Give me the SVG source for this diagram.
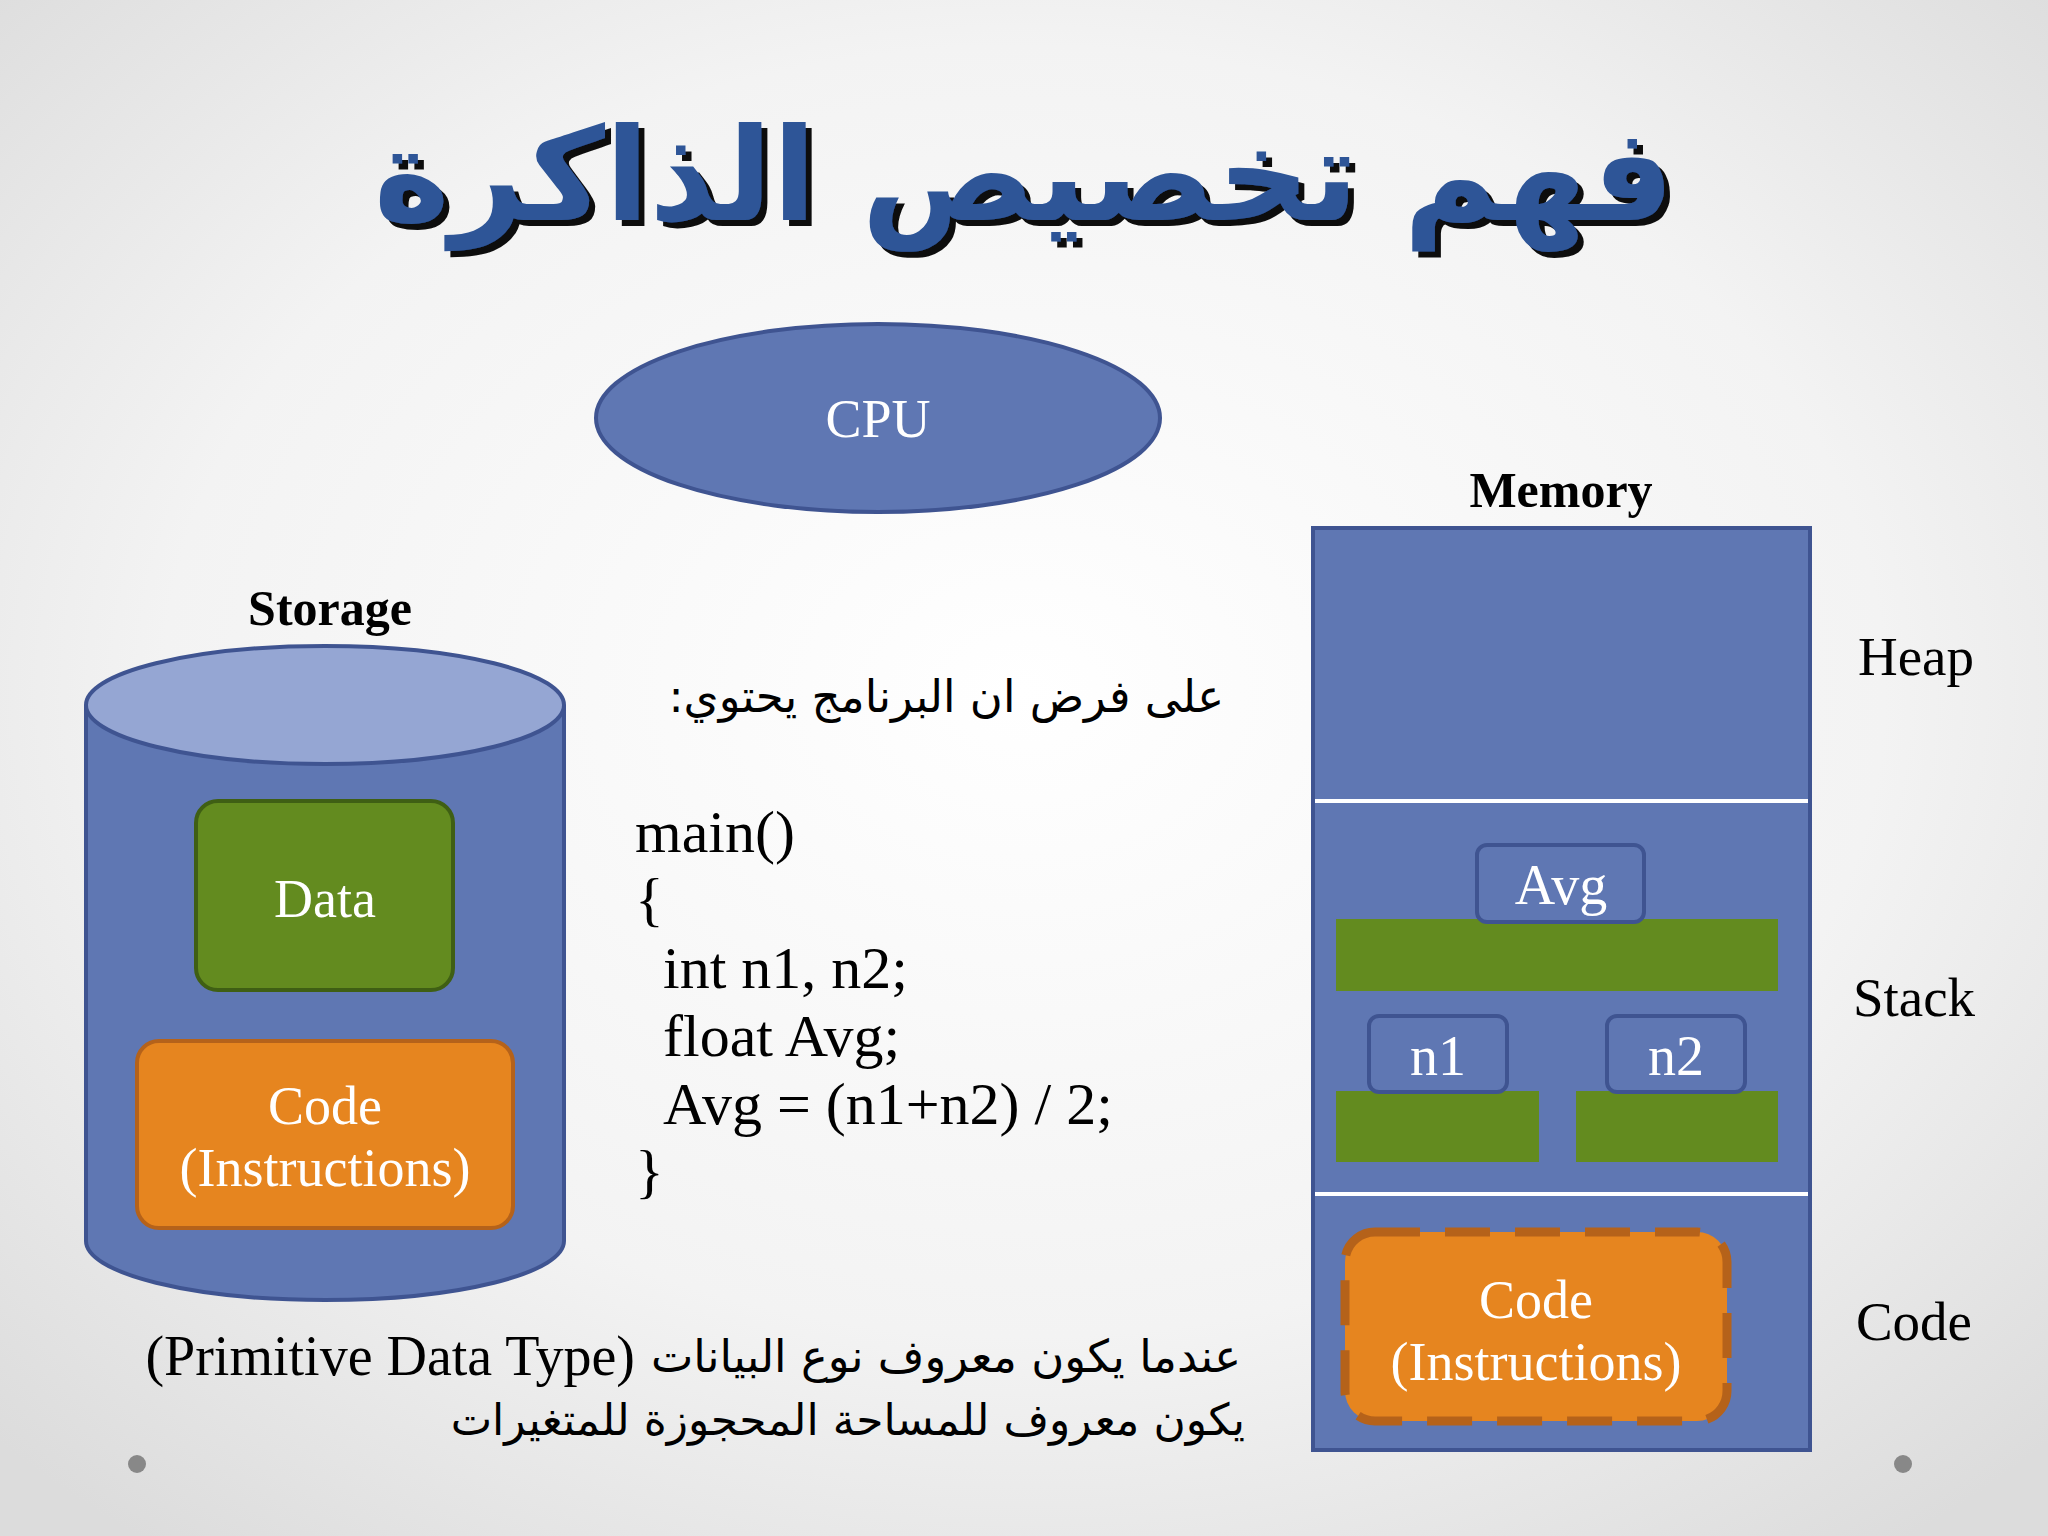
<svg xmlns="http://www.w3.org/2000/svg" width="2048" height="1536" viewBox="0 0 2048 1536">
<defs>
<radialGradient id="bg" cx="50%" cy="45%" r="70%"><stop offset="0" stop-color="#ffffff"/><stop offset="0.6" stop-color="#f3f3f3"/><stop offset="1" stop-color="#dcdcdc"/></radialGradient>
<filter id="sh" x="-5%" y="-20%" width="110%" height="140%"><feDropShadow dx="6" dy="6" stdDeviation="0" flood-color="#111"/></filter>
<style>
.s{font-family:"Liberation Serif",serif}
.w{fill:#fff}
.b{fill:#000}
.ar{font-family:"DejaVu Sans","Noto Sans",sans-serif}
.blue{fill:#5F77B3;stroke:#3F5491;stroke-width:4}
.grn{fill:#638B1F}
</style>
</defs>
<rect width="2048" height="1536" fill="url(#bg)"/>
<g id="title">
<text x="1024" y="220" text-anchor="middle" class="ar" font-size="129" font-weight="bold" fill="#2E5597" direction="rtl" filter="url(#sh)">فهم تخصيص الذاكرة</text>
</g>
<g id="cpu">
<ellipse cx="878" cy="418" rx="282" ry="94" class="blue"/>
<text x="878" y="437" text-anchor="middle" class="s w" font-size="54">CPU</text>
</g>
<g id="storage">
<text x="330" y="625" text-anchor="middle" class="s b" font-size="50" font-weight="bold">Storage</text>
<path d="M86 705 V1241 A239 59 0 0 0 564 1241 V705" class="blue"/>
<ellipse cx="325" cy="705" rx="239" ry="59" fill="#95A6D3" stroke="#3F5491" stroke-width="4"/>
<g id="data"><rect x="196" y="801" width="257" height="189" rx="22" fill="#638B1F" stroke="#3F5F14" stroke-width="4"/>
<text x="325" y="917" text-anchor="middle" class="s w" font-size="54">Data</text></g>
<g id="code1"><rect x="137" y="1041" width="376" height="187" rx="22" fill="#E6851F" stroke="#B5621A" stroke-width="4"/>
<text x="325" y="1124" text-anchor="middle" class="s w" font-size="54">Code</text>
<text x="325" y="1186" text-anchor="middle" class="s w" font-size="54">(Instructions)</text></g>
</g>
<g id="program">
<text x="1224" y="712" text-anchor="start" direction="rtl" class="ar b" font-size="45">على فرض ان البرنامج يحتوي:</text>
<g class="s b" font-size="60">
<text x="635" y="852">main()</text>
<text x="635" y="919">{</text>
<text x="663" y="988">int n1, n2;</text>
<text x="663" y="1056">float Avg;</text>
<text x="663" y="1124">Avg = (n1+n2) / 2;</text>
<text x="635" y="1191">}</text>
</g>
</g>
<g id="memory">
<text x="1561" y="507" text-anchor="middle" class="s b" font-size="50" font-weight="bold">Memory</text>
<rect x="1313" y="528" width="497" height="922" class="blue"/>
<line x1="1315" y1="801" x2="1808" y2="801" stroke="#fff" stroke-width="4"/>
<line x1="1315" y1="1194" x2="1808" y2="1194" stroke="#fff" stroke-width="4"/>
<rect x="1336" y="919" width="442" height="72" class="grn"/>
<rect x="1336" y="1091" width="203" height="71" class="grn"/>
<rect x="1576" y="1091" width="202" height="71" class="grn"/>
<g id="avg"><rect x="1477" y="845" width="167" height="77" rx="10" class="blue"/>
<text x="1561" y="904" text-anchor="middle" class="s w" font-size="56">Avg</text></g>
<g id="n1"><rect x="1369" y="1016" width="138" height="76" rx="10" class="blue"/>
<text x="1438" y="1075" text-anchor="middle" class="s w" font-size="56">n1</text></g>
<g id="n2"><rect x="1607" y="1016" width="138" height="76" rx="10" class="blue"/>
<text x="1676" y="1075" text-anchor="middle" class="s w" font-size="56">n2</text></g>
<g id="code2"><rect x="1345" y="1232" width="382" height="189" rx="30" fill="#E6851F" stroke="#B5621A" stroke-width="9" stroke-dasharray="45,25"/>
<text x="1536" y="1318" text-anchor="middle" class="s w" font-size="54">Code</text>
<text x="1536" y="1380" text-anchor="middle" class="s w" font-size="54">(Instructions)</text></g>
</g>
<g id="labels" class="s b" font-size="55">
<text x="1916" y="675" text-anchor="middle">Heap</text>
<text x="1914" y="1016" text-anchor="middle">Stack</text>
<text x="1914" y="1340" text-anchor="middle">Code</text>
</g>
<g id="bottom">
<text x="635" y="1375" text-anchor="end" class="s b" font-size="56">(Primitive Data Type)</text>
<text x="1241" y="1372" text-anchor="start" direction="rtl" class="ar b" font-size="45">عندما يكون معروف نوع البيانات</text>
<text x="1245" y="1435" text-anchor="start" direction="rtl" class="ar b" font-size="44">يكون معروف للمساحة المحجوزة للمتغيرات</text>
</g>
<circle cx="137" cy="1464" r="9" fill="#888"/>
<circle cx="1903" cy="1464" r="9" fill="#888"/>
</svg>
